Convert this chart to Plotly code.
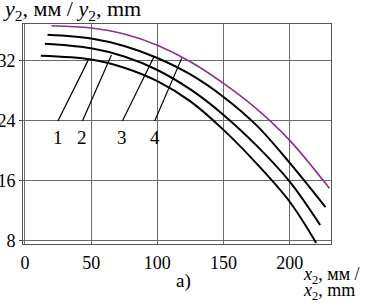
import plotly.graph_objects as go

# ---- data ----
x_c1 = [12, 50, 75, 100, 125, 150, 175, 200, 220]
y_c1 = [32.7, 32.2, 31.1, 29.3, 26.6, 22.8, 18.3, 13.2, 7.7]
x_c2 = [15, 50, 75, 100, 125, 150, 175, 200, 223]
y_c2 = [34.3, 33.7, 32.6, 30.8, 28.2, 24.8, 20.7, 15.9, 10.1]
x_c3 = [17, 50, 75, 100, 125, 150, 175, 200, 227]
y_c3 = [35.5, 35.0, 34.0, 32.4, 30.2, 27.2, 23.4, 18.4, 12.5]
x_c4 = [20, 50, 75, 100, 125, 150, 175, 200, 230]
y_c4 = [36.7, 36.4, 35.6, 34.1, 31.9, 29.0, 25.6, 21.4, 15.0]

curve_labels = ["1", "2", "3", "4"]
leader_x0 = [24.9, 43.4, 73.6, 98.0]     # bottom end of leader lines (data x)
leader_y0 = [24, 24, 24, 24]
leader_x1 = [47.6, 65.3, 97.3, 118.4]    # top end (on curve)
leader_y1 = [32.05, 32.8, 32.5, 32.35]

x_ticks = [0, 50, 100, 150, 200]
y_ticks = [8, 16, 24, 32]

FONT = "Liberation Serif, Times New Roman, serif"
SUB2 = "<sub>2</sub>"

fig = go.Figure()
series = [(x_c1, y_c1, "black", 2), (x_c2, y_c2, "black", 2),
          (x_c3, y_c3, "black", 2), (x_c4, y_c4, "#8e2e8e", 1.6)]
for xs, ys, col, w in series:
    fig.add_trace(go.Scatter(x=xs, y=ys, mode="lines",
                             line=dict(color=col, width=w, shape="spline", smoothing=1.0),
                             showlegend=False, hoverinfo="skip"))

for lab, xa, ya, xb, yb in zip(curve_labels, leader_x0, leader_y0, leader_x1, leader_y1):
    fig.add_trace(go.Scatter(x=[xa, xb], y=[ya, yb], mode="lines",
                             line=dict(color="black", width=1.2),
                             showlegend=False, hoverinfo="skip"))
    fig.add_annotation(x=xa, y=ya, xref="x", yref="y", text=lab, showarrow=False,
                       xanchor="center", yanchor="top", yshift=-4,
                       font=dict(family=FONT, size=19, color="black"))

fig.update_xaxes(range=[-1.5, 231.2], tickvals=x_ticks, showgrid=True,
                 gridcolor="#6a6a6a", gridwidth=1, zeroline=False, automargin=False,
                 showline=True, linecolor="#555", linewidth=1, mirror=True,
                 ticks="", ticklabelstandoff=2,
                 tickfont=dict(family=FONT, size=18, color="black"))
fig.update_yaxes(range=[7.56, 36.94], tickvals=y_ticks, showgrid=True,
                 gridcolor="#6a6a6a", gridwidth=1, zeroline=False, automargin=False,
                 showline=True, linecolor="#555", linewidth=1, mirror=True,
                 ticks="outside", ticklen=3, tickcolor="#444",
                 tickfont=dict(family=FONT, size=18, color="black"))

fig.add_annotation(xref="paper", yref="paper", x=-0.072, y=1.064, xanchor="left",
                   yanchor="middle", showarrow=False,
                   text="<i>y</i>" + SUB2 + ", мм / <i>y</i>" + SUB2 + ", mm",
                   font=dict(family=FONT, size=22, color="black"))
fig.add_annotation(xref="paper", yref="paper", x=0.902, y=-0.141, xanchor="left",
                   yanchor="middle", showarrow=False,
                   text="<i>x</i>" + SUB2 + ", мм /",
                   font=dict(family=FONT, size=18, color="black"))
fig.add_annotation(xref="paper", yref="paper", x=0.902, y=-0.218, xanchor="left",
                   yanchor="middle", showarrow=False,
                   text="<i>x</i>" + SUB2 + ", mm",
                   font=dict(family=FONT, size=18, color="black"))
fig.add_annotation(xref="paper", yref="paper", x=0.522, y=-0.168, xanchor="center",
                   yanchor="middle", showarrow=False, text="a)",
                   font=dict(family=FONT, size=19, color="black"))

fig.update_layout(width=367, height=304, margin=dict(l=23, r=36, t=24, b=60),
                  paper_bgcolor="white", plot_bgcolor="white")

fig.write_html("out.html", config={"displayModeBar": False},
               post_script="document.body.style.margin='0';document.body.style.overflow='hidden';")
